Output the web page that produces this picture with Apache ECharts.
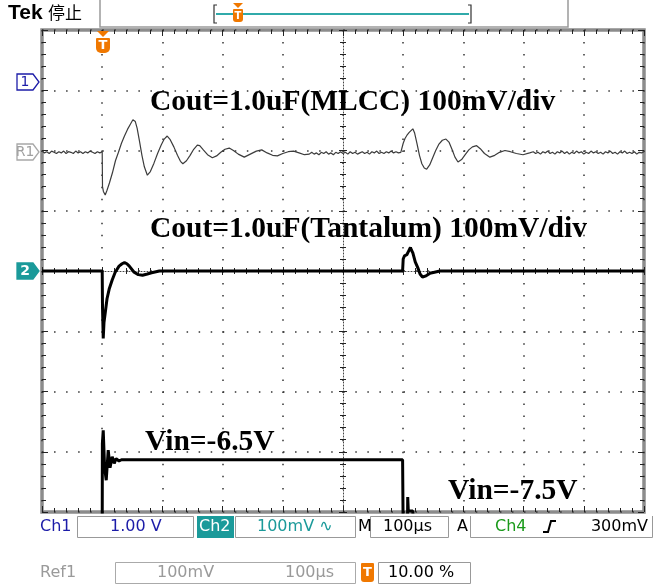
<!DOCTYPE html>
<html><head><meta charset="utf-8">
<script src="https://cdn.jsdelivr.net/npm/echarts/dist/echarts.min.js"></script>
<style>html,body{margin:0;padding:0;background:#fff}#c{width:659px;height:584px}</style>
</head><body><div id="c"></div>
<script>
// ---------------- DATA ----------------
// time axis in microseconds (100 µs/div, trigger at 0 = 10 %)
const timeMin = -100, timeMax = 900, timePerDiv = 100;
// Ref1: Cout = 1.0uF (MLCC), mV (100 mV/div)
const mlccTimeUs = [-100,-96,-92,-88,-84,-80,-76,-72,-68,-64,-60,-56,-52,-48,-44,-40,-36,-32,-28,-24,-20,-16,-12,-8,-4,0,
  0.5,2,5,8,12,17,22,27,32,37,42,47,51,55,58,62,66,70,75,80,86,92,98,103,108,113,119,125,130,134,140,146,152,158,162,168,175,183,190,197,204,211,218,226,236,246,256,265,274,283,291,300,309,318,327,336,344,
  348,352,356,360,364,368,372,376,380,384,388,392,396,400,404,408,412,416,420,424,428,432,436,440,444,448,452,456,460,464,468,472,476,480,484,488,492,496,
  499,500,503,506,510,513,516,519,523,527,531,535,539,544,549,554,559,565,571,576,581,586,591,597,603,609,615,622,628,635,644,652,660,669,678,688,699,710,
  716,720,724,728,732,736,740,744,748,752,756,760,764,768,772,776,780,784,788,792,796,800,804,808,812,816,820,824,828,832,836,840,844,848,852,856,860,864,868,872,876,880,884,888,892,896,900];
const mlccMv = [-1,-4,-2,-5,-1,-3,-5,-2,-4,-1,-5,-2,-3,-5,-1,-4,-2,-5,-2,-4,-1,-3,-5,-2,-4,-2,
  -60,-68,-74,-66,-54,-37,-17,-3,12,24,35,44,51,48,37,15,-8,-27,-41,-35,-21,-5,9,19,24,18,6,-8,-18,-22,-17,-8,2,9,8,1,-7,-12,-9,-3,2,4,0,-6,-11,-6,-1,1,-4,-8,-9,-5,-2,-1,-4,-7,-6,
  -3,-6,-4,-7,-3,-5,-2,-6,-4,-7,-3,-5,-2,-5,-3,-6,-2,-5,-3,-6,-4,-2,-5,-3,-6,-2,-4,-1,-5,-3,-5,-2,-4,-1,-4,-2,-4,-3,
  -3,12,20,25,30,33,36,29,11,-8,-22,-29,-31,-24,-12,0,10,17,19,14,2,-11,-19,-15,-7,1,6,8,3,-5,-11,-8,-3,0,-2,-5,-7,-4,
  -2,-5,-3,-6,-2,-4,-1,-5,-3,-6,-2,-4,-1,-5,-2,-6,-3,-5,-1,-4,-2,-6,-3,-5,-1,-4,-2,-5,-3,-6,-2,-4,-1,-5,-3,-6,-2,-4,-1,-5,-3,-5,-2,-6,-3,-4,-2];
// Ch2: Cout = 1.0uF (Tantalum), mV (100 mV/div)
const tantTimeUs = [-100,0,0.5,1.7,3,5,8,11.6,16.6,21.6,28,33,37,41,45,53,60,67,75,82,95,499,500,502,506,509,512,514,516,520,524,528,532,538,544,552,561,900];
const tantMv = [0,0,-60,-112,-85,-70,-46,-30,-15,-2,8,12,14,12,8,-2,-6,-7,-5,-3,0,0,20,25,27,33,39,34,30,15,6,-5,-10,-8,-4,-2,0,0];
// Ch1: Vin, V (1 V/div), relative to Ch1 marker
const vinTimeUs = [-100,0,0.3,1.7,4,6.7,10,13,16.6,20,23,28,32,499,500,507,507.5,508.5,511,516,517,900];
const vinV = [-7.5,-7.5,-6.0,-5.78,-6.4,-6.61,-6.11,-6.4,-6.22,-6.33,-6.25,-6.29,-6.27,-6.27,-7.5,-7.5,-6.89,-7.12,-7.1,-7.12,-7.5,-7.5];
// vertical scales (8 divisions)
const ref1Range = [-600, 200];   // mV
const ch2Range = [-400, 400];    // mV
const ch1Range = [-7.137, 0.863]; // V
// labels
const traceLabels = ['Cout=1.0uF(MLCC) 100mV/div', 'Cout=1.0uF(Tantalum) 100mV/div', 'Vin=-6.5V', 'Vin=-7.5V'];
const statusRow = { ch1: 'Ch1', ch1Scale: '1.00 V', ch2: 'Ch2', ch2Scale: '100mV', time: '100µs', trig: 'Ch4', trigLevel: '300mV' };
const refRow = { name: 'Ref1', scale: '100mV', time: '100µs', pos: '10.00 %' };

// ---------------- CHART ----------------
const zip = (a, b) => a.map((v, i) => [v, b[i]]);
const G = { left: 42, right: 15, top: 30, bottom: 72 };
const ORANGE = '#f07800', TEAL = '#1b9a9a', NAVY = '#1c1ca8', GREEN = '#1a9a1a';
const sans = '"DejaVu Sans"';
const dots = { color: '#333', width: 1.5, type: [1.5, 10.55] };

function borderAxis(extra) {
  return Object.assign({
    gridIndex: 1, type: 'value', axisLabel: { show: false },
    axisLine: { show: false, onZero: false },
    axisTick: { show: true, inside: true, length: 6, lineStyle: { color: '#222', width: 1 } },
    minorTick: { show: true, splitNumber: 5, length: 4, lineStyle: { color: '#222', width: 1 } },
    splitLine: { show: false }
  }, extra);
}
function centerAxis(extra, inside, line, zeroIdx) {
  return Object.assign({
    gridIndex: 1, type: 'value', axisLabel: { show: false },
    axisLine: { show: line, onZero: true, onZeroAxisIndex: zeroIdx, lineStyle: { color: '#444', width: 1, type: [1, 2] } },
    axisTick: { show: true, inside: inside, length: 4, lineStyle: { color: '#222', width: 1 } },
    minorTick: { show: true, splitNumber: 5, length: 3, lineStyle: { color: '#222', width: 1 } },
    splitLine: { show: false }
  }, extra);
}
function T(text, x, y, font, fill, align) {
  return { type: 'text', x: x, y: y, z: 100,
    style: { text: text, font: font, fill: fill || '#000', align: align || 'left', verticalAlign: 'middle',
             textAlign: align || 'left', textVerticalAlign: 'middle' } };
}
function R(x, y, w, h, stroke, fill, r) {
  return { type: 'rect', z: 99, shape: { x: x, y: y, width: w, height: h, r: r || 0 },
    style: { stroke: stroke || 'none', fill: fill || 'none', lineWidth: 1 } };
}
function P(points, stroke, fill, lw, closed) {
  return { type: closed ? 'polygon' : 'polyline', z: 99, shape: { points: points },
    style: { stroke: stroke || 'none', fill: fill || 'none', lineWidth: lw || 1 } };
}
function marker(cy, text, stroke, fill, tcolor, bold) {
  return [P([[17, cy - 8], [33, cy - 8], [39, cy], [33, cy + 8], [17, cy + 8]], stroke, fill, 1.3, true),
          T(text, 25, cy + 0.5, (bold ? 'bold ' : '') + '14px ' + sans, tcolor, 'center')];
}
function trigIcon(cx, top, h) {
  return [P([[cx - 6, top], [cx + 6, top], [cx, top + 6]], null, ORANGE, 1, true),
          R(cx - 7, top + 7, 14, h, null, ORANGE, [1, 1, 5, 5]),
          T('T', cx, top + 7 + h / 2 + 0.5, 'bold 13px ' + sans, '#fff', 'center')];
}

const serif = 'bold 29.5px "Liberation Serif"';
const graphics = [].concat(
  // header
  [T('Tek', 8, 13, 'bold 21px "Liberation Sans"', '#000'),
   T('停止', 48, 13, '17px "Noto Sans CJK SC"', '#000'),
   P([[100, 0], [100, 27], [568, 27], [568, 0]], '#9a9a9a', null, 1.5),
   P([[217, 5], [214, 5], [214, 23], [217, 23]], '#333', null, 1.2),
   P([[468, 5], [471, 5], [471, 23], [468, 23]], '#333', null, 1.2),
   P([[216, 14], [469, 14]], '#30aaaa', null, 2),
   P([[233, 3], [243, 3], [238, 8]], null, ORANGE, 1, true),
   R(233, 9, 10, 13, null, ORANGE, [1, 1, 3, 3]),
   T('T', 238, 16, 'bold 10px ' + sans, '#fff', 'center')],
  trigIcon(103, 31, 15),
  marker(82, '1', NAVY, '#fff', NAVY, false),
  marker(152, 'R1', '#a8a8a8', '#fff', '#a0a0a0', false),
  marker(271, '2', TEAL, TEAL, '#fff', true),
  // trace annotations
  [T(traceLabels[0], 150, 102, serif), T(traceLabels[1], 150, 229, serif),
   T(traceLabels[2], 145, 442, serif), T(traceLabels[3], 448, 491, serif)],
  // status row
  [T(statusRow.ch1, 40, 527, '16px ' + sans, NAVY),
   R(77.5, 516.5, 116, 21, '#999'),
   T(statusRow.ch1Scale, 110, 527, '16px ' + sans, NAVY),
   R(197, 516, 37, 22, null, TEAL),
   T(statusRow.ch2, 199, 527, '16px ' + sans, '#fff'),
   R(235.5, 516.5, 120, 21, '#999'),
   T(statusRow.ch2Scale + ' ∿', 257, 527, '16px ' + sans, TEAL),
   T('M', 358, 527, '16px ' + sans, '#000'),
   R(370.5, 516.5, 78, 21, '#999'),
   T(statusRow.time, 383, 527, '16px ' + sans, '#000'),
   T('A', 457, 527, '16px ' + sans, '#000'),
   P([[470.5, 516], [470.5, 537.5], [652.5, 537.5], [652.5, 516]], '#999', null, 1),
   T(statusRow.trig, 495, 527, '16px ' + sans, GREEN),
   P([[543, 532], [548, 532], [551, 521], [556, 521]], '#000', null, 2),
   T(statusRow.trigLevel, 648, 527, '16px ' + sans, '#000', 'right')],
  // ref row
  [T(refRow.name, 40, 573, '16px ' + sans, '#9a9a9a'),
   R(115.5, 562.5, 240, 21, '#aaa'),
   T(refRow.scale, 157, 573, '16px ' + sans, '#9a9a9a'),
   T(refRow.time, 285, 573, '16px ' + sans, '#9a9a9a'),
   R(361, 563, 13, 19, null, ORANGE, [1, 1, 3, 3]),
   T('T', 367.5, 573, 'bold 13px ' + sans, '#fff', 'center'),
   R(378.5, 562.5, 92, 21, '#999'),
   T(refRow.pos, 388, 573, '16px ' + sans, '#000')]
);

const chart = echarts.init(document.getElementById('c'), null, { renderer: 'canvas' });
chart.setOption({
  animation: false,
  backgroundColor: '#fff',
  grid: [
    Object.assign({ show: false, outerBoundsMode: 'none', containLabel: false }, G),
    Object.assign({ show: true, borderColor: '#8c8c8c', borderWidth: 3.5, backgroundColor: 'transparent', outerBoundsMode: 'none', containLabel: false }, G)
  ],
  xAxis: [
    { gridIndex: 0, type: 'value', min: timeMin, max: timeMax, interval: timePerDiv, show: false },
    borderAxis({ min: -5, max: 5, interval: 1, position: 'bottom', splitLine: { show: true, lineStyle: dots } }),
    borderAxis({ min: -5, max: 5, interval: 1, position: 'top' }),
    centerAxis({ min: -5, max: 5, interval: 1, position: 'bottom' }, false, true, 3),
    centerAxis({ min: -5, max: 5, interval: 1, position: 'bottom' }, true, false, 3)
  ],
  yAxis: [
    { gridIndex: 0, type: 'value', min: ref1Range[0], max: ref1Range[1], show: false },
    { gridIndex: 0, type: 'value', min: ch2Range[0], max: ch2Range[1], show: false },
    { gridIndex: 0, type: 'value', min: ch1Range[0], max: ch1Range[1], show: false },
    borderAxis({ min: -4, max: 4, interval: 1, position: 'left', splitLine: { show: true, lineStyle: dots } }),
    borderAxis({ min: -4, max: 4, interval: 1, position: 'right' }),
    centerAxis({ min: -4, max: 4, interval: 1, position: 'left' }, false, true, 1),
    centerAxis({ min: -4, max: 4, interval: 1, position: 'left' }, true, false, 1)
  ],
  series: [
    { type: 'line', xAxisIndex: 0, yAxisIndex: 0, data: zip(mlccTimeUs, mlccMv), showSymbol: false, clip: true,
      lineStyle: { color: '#3c3c3c', width: 1.2 }, z: 5 },
    { type: 'line', xAxisIndex: 0, yAxisIndex: 1, data: zip(tantTimeUs, tantMv), showSymbol: false, clip: true,
      lineStyle: { color: '#000', width: 3 }, z: 5 },
    { type: 'line', xAxisIndex: 0, yAxisIndex: 2, data: zip(vinTimeUs, vinV), showSymbol: false, clip: true,
      lineStyle: { color: '#000', width: 3 }, z: 5 }
  ],
  graphic: { elements: graphics }
});
</script></body></html>
